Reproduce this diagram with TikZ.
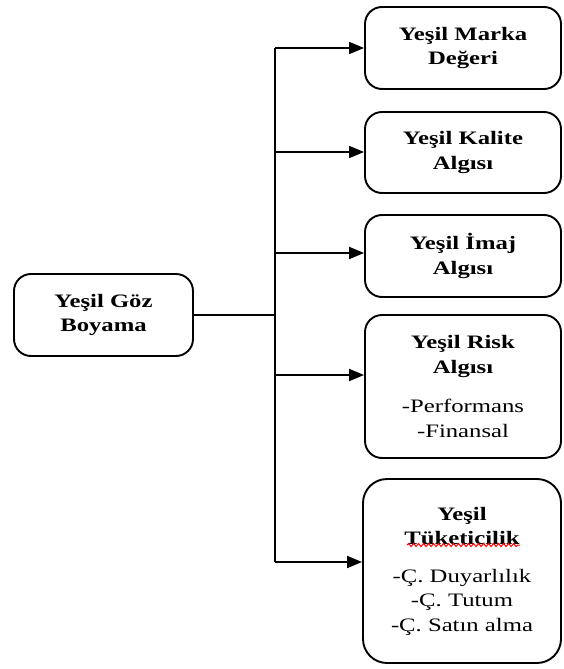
\documentclass[tikz,border=0pt]{standalone}
\usepackage{fontspec}
\setmainfont{Liberation Serif}[FakeStretch=1.3]
\usetikzlibrary{arrows.meta,decorations.pathmorphing}
\begin{document}
\begin{tikzpicture}[x=1pt,y=-1pt,
  box/.style={draw=black,line width=1.9pt,rounded corners=17pt,inner sep=0pt,
    align=center,font=\fontsize{19}{24.5}\selectfont},
  conn/.style={line width=1.9pt},
  arr/.style={conn,-{Triangle[length=15pt,width=12pt]}}]
\useasboundingbox (0,0) rectangle (563,669);
\node[box,minimum width=179pt,minimum height=82pt] (src) at (103.5,315) {\textbf{Yeşil Göz}\\\textbf{Boyama}};
\node[box,minimum width=196pt,minimum height=82pt] (b1) at (463,48) {\textbf{Yeşil Marka}\\\textbf{Değeri}};
\node[box,minimum width=196pt,minimum height=81pt] (b2) at (463,152.5) {\textbf{Yeşil Kalite}\\\textbf{Algısı}};
\node[box,minimum width=196pt,minimum height=82pt] (b3) at (463,256) {\textbf{Yeşil İmaj}\\\textbf{Algısı}};
\node[box,minimum width=196pt,minimum height=143pt] (b4) at (463,386.5) {\textbf{Yeşil Risk}\\\textbf{Algısı}\\[15pt]-Performans\\-Finansal};
\node[box,rounded corners=24pt,minimum width=198pt,minimum height=184pt] (b5) at (462,571) {\textbf{Yeşil}\\\textbf{Tüketicilik}\\[13pt]-Ç. Duyarlılık\\-Ç. Tutum\\-Ç. Satın alma};
\coordinate (t0) at (275,315);
\coordinate (t1) at (275,48);
\coordinate (t2) at (275,152);
\coordinate (t3) at (275,253);
\coordinate (t4) at (275,375);
\coordinate (t5) at (275,562);
\draw[conn] (src.east) -- (t0);
\draw[conn] (t1) -- (t5);
\draw[arr] (t1) -- (b1.west |- t1);
\draw[arr] (t2) -- (b2.west |- t2);
\draw[arr] (t3) -- (b3.west |- t3);
\draw[arr] (t4) -- (b4.west |- t4);
\draw[arr] (t5) -- (b5.west |- t5);
\draw[red,line width=1pt,decorate,decoration={snake,amplitude=1.5pt,segment length=5pt}] (407,545) -- (520,545);
\end{tikzpicture}
\end{document}
